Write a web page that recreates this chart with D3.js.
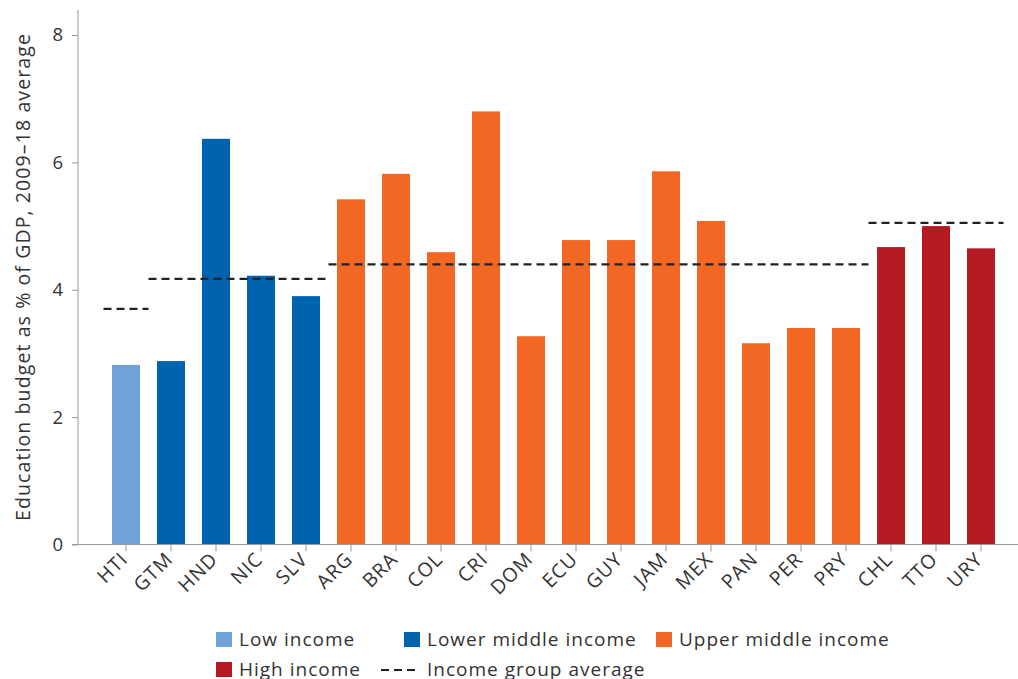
<!DOCTYPE html>
<html><head><meta charset="utf-8">
<script src="https://cdn.jsdelivr.net/npm/d3@7"></script>
<style>body{margin:0;background:#fff;} text{font-family:"Open Sans",sans-serif;fill:#333;}</style>
</head><body><svg id="c" width="1018" height="679"></svg>
<script>
const countries = ["HTI","GTM","HND","NIC","SLV","ARG","BRA","COL","CRI","DOM","ECU","GUY","JAM","MEX","PAN","PER","PRY","CHL","TTO","URY"];
const values = [2.82,2.88,6.37,4.22,3.90,5.42,5.82,4.59,6.80,3.27,4.78,4.78,5.86,5.08,3.16,3.40,3.40,4.67,5.00,4.65];
const groups = ["low","lmid","lmid","lmid","lmid","umid","umid","umid","umid","umid","umid","umid","umid","umid","umid","umid","umid","high","high","high"];
const groupKeys = ["low","lmid","umid","high"];
const groupNames = ["Low income","Lower middle income","Upper middle income","High income"];
const groupColors = ["#6fa2d6","#0063ad","#f36724","#b51a23"];
const groupAvg = [3.70,4.17,4.40,5.05];
const yTicks = [0,2,4,6,8];

const svg = d3.select("#c");
const x = d3.scaleBand().domain(countries).range([103.5,1003.5]).paddingInner(0.378).paddingOuter(0.189);
const y = d3.scaleLinear().domain([0,8]).range([544.5,35]);
const color = d3.scaleOrdinal().domain(groupKeys).range(groupColors);

// bars
svg.append("g").selectAll("rect").data(countries).join("rect")
  .attr("x",d=>x(d)).attr("width",x.bandwidth())
  .attr("y",(d,i)=>y(values[i])).attr("height",(d,i)=>y(0)-y(values[i]))
  .attr("fill",(d,i)=>color(groups[i]));

// y axis
const ya = svg.append("g").attr("transform","translate(78,0)")
  .call(d3.axisLeft(y).tickValues(yTicks).tickSize(6).tickPadding(9));
ya.select(".domain").attr("d","M0,10V544.5").attr("stroke","#999");
ya.selectAll(".tick line").attr("stroke","#999");
ya.selectAll(".tick text").attr("font-size",18.5).attr("fill","#333").attr("font-family","Open Sans");

// x axis
const xa = svg.append("g").attr("transform","translate(0,544.5)")
  .call(d3.axisBottom(x).tickSize(7).tickSizeOuter(0));
xa.select(".domain").attr("d","M72,0H1018").attr("stroke","#999");
xa.selectAll(".tick line").attr("stroke","#999");
xa.selectAll(".tick text").attr("font-size",19.5).attr("fill","#333").attr("font-family","Open Sans")
  .attr("letter-spacing",1)
  .attr("text-anchor","end").attr("dy",0).attr("y",0)
  .attr("transform","translate(3,16) rotate(-45)");

// group averages
const avgSegs = groupKeys.map((g,k)=>{
  const members = countries.filter((c,i)=>groups[i]===g);
  const step = x.step();
  return {x0: x(members[0]) + x.bandwidth()/2 - step/2, x1: x(members[members.length-1]) + x.bandwidth()/2 + step/2, v: groupAvg[k]};
});
svg.append("g").selectAll("line").data(avgSegs).join("line")
  .attr("x1",d=>d.x0).attr("x2",d=>d.x1).attr("y1",d=>y(d.v)).attr("y2",d=>y(d.v))
  .attr("stroke","#222").attr("stroke-width",2.2).attr("stroke-dasharray","8,5");

// y title
svg.append("text").attr("transform","translate(30,277) rotate(-90)").attr("text-anchor","middle")
  .attr("font-size",19.5).attr("letter-spacing",1.1).text("Education budget as % of GDP, 2009–18 average");

// legend
const leg = [
  {t:"rect",c:groupColors[0],n:groupNames[0],x:216,y:632},
  {t:"rect",c:groupColors[1],n:groupNames[1],x:404,y:632},
  {t:"rect",c:groupColors[2],n:groupNames[2],x:656,y:632},
  {t:"rect",c:groupColors[3],n:groupNames[3],x:216,y:662},
  {t:"dash",c:"#222",n:"Income group average",x:381,y:662}
];
const lg = svg.append("g");
leg.forEach(l=>{
  if(l.t==="rect"){
    lg.append("rect").attr("x",l.x).attr("y",l.y).attr("width",16).attr("height",15).attr("fill",l.c);
    lg.append("text").attr("x",l.x+23).attr("y",l.y+14).attr("font-size",19).attr("letter-spacing",1).text(l.n);
  } else {
    lg.append("line").attr("x1",l.x).attr("x2",l.x+36).attr("y1",l.y+8).attr("y2",l.y+8)
      .attr("stroke",l.c).attr("stroke-width",2.2).attr("stroke-dasharray","8,5");
    lg.append("text").attr("x",l.x+46).attr("y",l.y+14).attr("font-size",19).attr("letter-spacing",1).text(l.n);
  }
});
</script></body></html>
